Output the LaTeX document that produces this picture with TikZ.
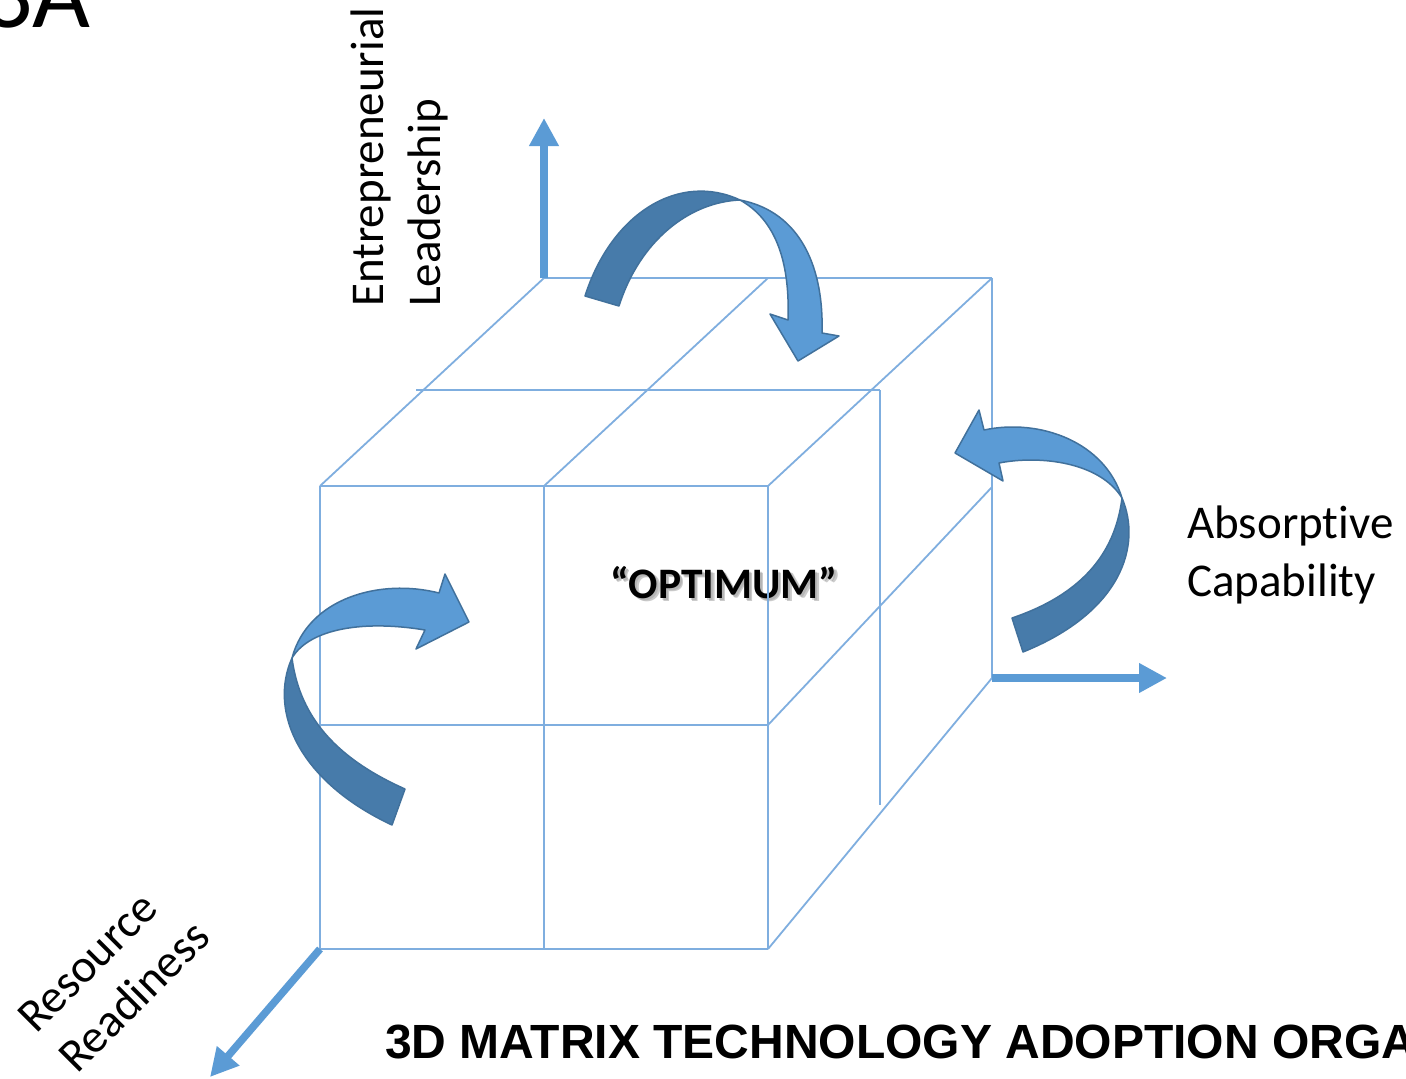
\documentclass[tikz,border=0pt]{standalone}
\usepackage{fontspec}
\setmainfont{Carlito}[Ligatures=NoCommon]
\newfontfamily\headfont{Liberation Sans}
\usetikzlibrary{arrows.meta}

\definecolor{cubeblue}{HTML}{7FAEDF}
\definecolor{axisblue}{HTML}{5B9BD5}
\definecolor{ribbonlight}{HTML}{5B9BD5}
\definecolor{ribbondark}{HTML}{477BAA}
\definecolor{ribbonedge}{HTML}{41719C}

\tikzset{
  cubeline/.style={draw=cubeblue, line width=1.8pt},
  axisarrow/.style={draw=axisblue, line width=7.5pt, -{Triangle[length=28pt,width=28pt]}},
  lightpart/.style={fill=ribbonlight, draw=ribbonedge, line width=1.5pt, line join=round},
  darkpart/.style={fill=ribbondark, draw=ribbonedge, line width=1.5pt, line join=round},
  axislabel/.style={font=\fontsize{47}{57}\selectfont, inner sep=0pt},
  centrelabel/.style={font=\fontsize{43.5}{52}\selectfont\bfseries, inner sep=0pt},
  titlelabel/.style={font=\headfont\fontsize{48}{58}\selectfont\bfseries, inner sep=0pt},
}

\begin{document}
\begin{tikzpicture}[x=1pt,y=-1pt]
\useasboundingbox (0,0) rectangle (1406,1079);
\fill[white] (0,0) rectangle (1406,1079);

% cube corners and grid points
\coordinate (F1) at (320,486); \coordinate (F2) at (544,486); \coordinate (F3) at (768,486);
\coordinate (F4) at (320,725); \coordinate (F5) at (544,725); \coordinate (F6) at (768,725);
\coordinate (F7) at (320,949); \coordinate (F8) at (544,949); \coordinate (F9) at (768,949);
\coordinate (B1) at (544,278); \coordinate (B2) at (768,278); \coordinate (B3) at (992,278);
\coordinate (M1) at (416,390); \coordinate (M3) at (880,390);
\coordinate (R1) at (992,487); \coordinate (R2) at (992,678);
\coordinate (V) at (880,805);
% axis tips
\coordinate (TU) at (544,118);
\coordinate (TR) at (1167,678);
\coordinate (TD) at (210,1077);

% heading cut by the page edge
\node[font=\fontsize{100}{110}\selectfont, inner sep=0pt, anchor=base east] (heading) at (91,27) {3A};

% centre label with soft shadow
\node[centrelabel, anchor=base, text=black!45, opacity=0.45] (optshadow1) at (727.5,601.5) {“OPTIMUM”};
\node[centrelabel, anchor=base, text=black!45, opacity=0.35] (optshadow2) at (726,600) {“OPTIMUM”};
\node[centrelabel, anchor=base] (optimum) at (724,598) {“OPTIMUM”};

% front face
\draw[cubeline] (F1) -- (F3);
\draw[cubeline] (F4) -- (F6);
\draw[cubeline] (F7) -- (F9);
\draw[cubeline] (F1) -- (F7);
\draw[cubeline] (F2) -- (F8);
\draw[cubeline] (F3) -- (F9);
% top face
\draw[cubeline] (F1) -- (B1);
\draw[cubeline] (F2) -- (B2);
\draw[cubeline] (F3) -- (B3);
\draw[cubeline] (B1) -- (B3);
\draw[cubeline] (M1) -- (M3);
% right face
\draw[cubeline] (B3) -- (R2);
\draw[cubeline] (F6) -- (R1);
\draw[cubeline] (F9) -- (R2);
\draw[cubeline] (M3) -- (V);

% axes
\draw[axisarrow] (B1) -- (TU);
\draw[axisarrow] (R2) -- (TR);
\draw[axisarrow] (F7) -- (TD);

% twisted curved arrow over the top face
\draw[darkpart] (585,296) .. controls (612,212) and (680,172) .. (740,200)
  .. controls (690,202) and (640,240) .. (619,306) -- cycle;
\draw[lightpart] (740,200) .. controls (802,212) and (824,270) .. (822,333)
  -- (839,336) -- (798,361) -- (770,314) -- (788,320)
  .. controls (790,262) and (776,220) .. (740,200) -- cycle;

% twisted curved arrow beside the right face
\draw[lightpart] (1122,498) .. controls (1105,442) and (1040,418) .. (984,430)
  -- (979,410) -- (955,453) -- (1003,481) -- (999,463)
  .. controls (1040,455) and (1100,462) .. (1122,498) -- cycle;
\draw[darkpart] (1122,498) .. controls (1142,545) and (1122,612) .. (1023,652)
  -- (1012,618) .. controls (1080,595) and (1115,555) .. (1122,498) -- cycle;

% twisted curved arrow on the front face
\draw[lightpart] (292,658) .. controls (308,598) and (380,578) .. (439,593)
  -- (445,574) -- (469,622) -- (416,649) -- (425,630)
  .. controls (365,620) and (310,628) .. (292,658) -- cycle;
\draw[darkpart] (292,658) .. controls (268,712) and (300,782) .. (392,825)
  -- (405,789) .. controls (340,760) and (300,720) .. (292,658) -- cycle;

% axis labels
\node[axislabel, rotate=90, anchor=base west] (lead1) at (383,307) {Entrepreneurial};
\node[axislabel, rotate=90, anchor=base west] (lead2) at (440,307) {Leadership};
\node[axislabel, anchor=base west] (abs1) at (1187,538) {Absorptive};
\node[axislabel, anchor=base west] (abs2) at (1187,596) {Capability};
\node[axislabel, rotate=45, anchor=base west] (res1) at (36,1035) {Resource};
\node[axislabel, rotate=45, anchor=base west] (res2) at (77,1075) {Readiness};

% title cut by the page edge
\node[titlelabel, anchor=base west] (title) at (385,1058) {3D MATRIX TECHNOLOGY ADOPTION ORGA};
\end{tikzpicture}
\end{document}
